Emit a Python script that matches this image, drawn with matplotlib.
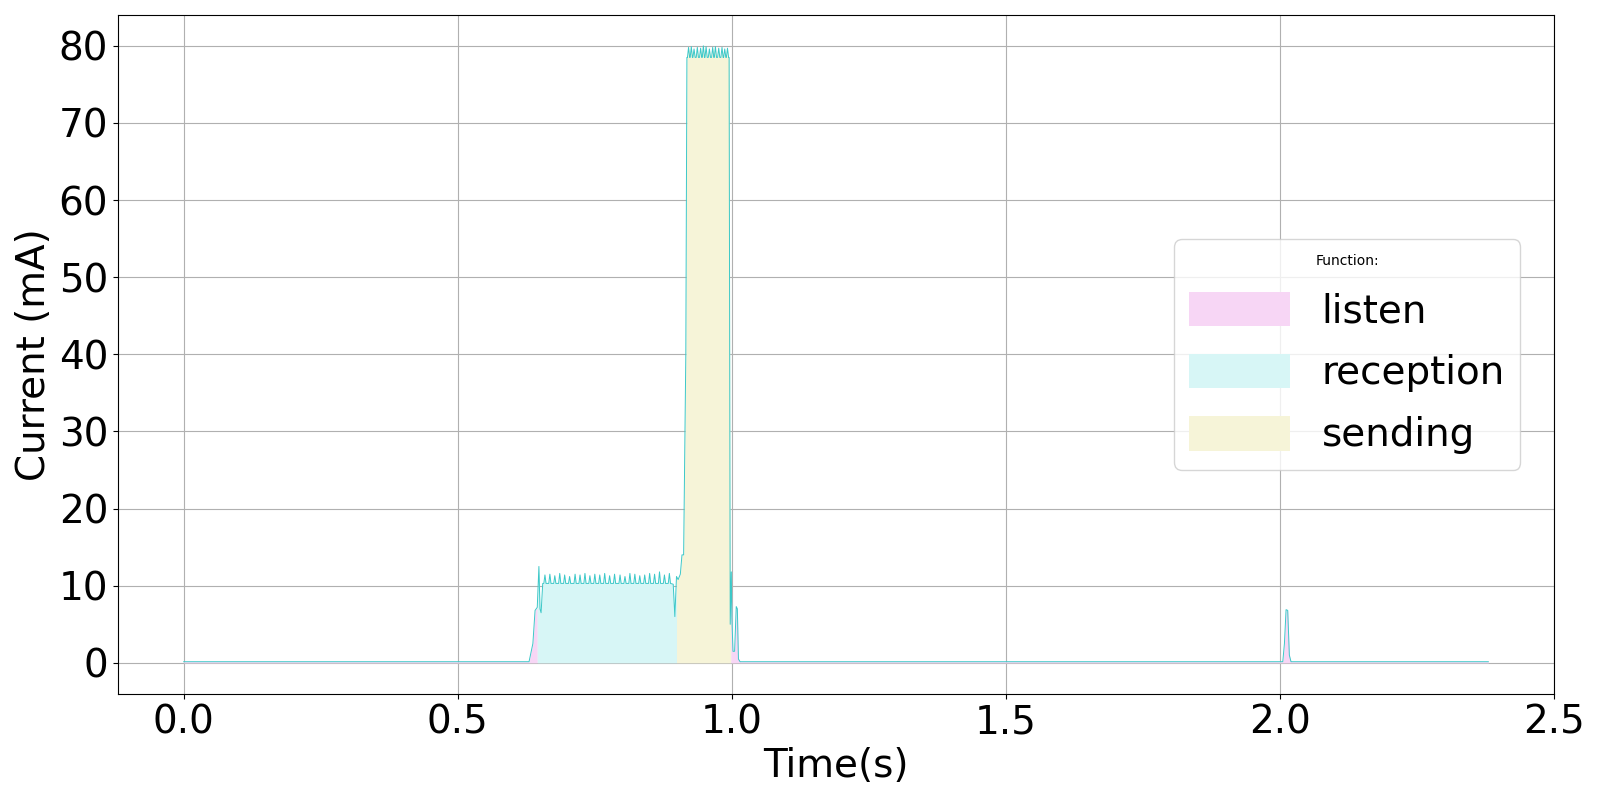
import numpy as np
import matplotlib.pyplot as plt

# trace keypoints (time s, current mA)
base_t = [0.0, 0.630, 0.637, 0.641, 0.645, 0.648, 0.650, 0.652, 0.655]
base_i = [0.15, 0.15, 2.5, 6.8, 7.2, 12.5, 7.0, 6.5, 10.3]

rx_spikes = [0.659, 0.668, 0.677, 0.686, 0.695, 0.704, 0.714, 0.723, 0.732,
             0.741, 0.750, 0.759, 0.768, 0.777, 0.786, 0.796, 0.805, 0.814,
             0.823, 0.832, 0.841, 0.850, 0.859, 0.868, 0.877, 0.886]
rx_heights = [11.4, 11.5, 11.3, 11.6, 11.4, 11.2, 11.5, 11.4, 11.6,
              11.3, 11.5, 11.4, 11.6, 11.3, 11.5, 11.4, 11.2, 11.6,
              11.5, 11.3, 11.4, 11.6, 11.5, 11.8, 11.4, 11.6]

mid_t = [0.893, 0.896, 0.899, 0.902, 0.906, 0.909, 0.912, 0.916, 0.918]
mid_i = [10.2, 6.0, 11.2, 10.8, 11.5, 14.0, 14.0, 40.0, 78.5]

tx_spikes = [0.921, 0.926, 0.931, 0.937, 0.943, 0.948, 0.953, 0.959, 0.965,
             0.970, 0.976, 0.982, 0.987, 0.992]
tx_heights = [79.8, 79.9, 79.6, 79.8, 79.7, 80.0, 79.9, 79.6, 79.8,
              79.9, 79.7, 79.8, 79.6, 79.7]

end_t = [0.995, 0.997, 0.999, 1.000, 1.002, 1.005, 1.008, 1.010, 1.012, 1.015,
         2.005, 2.008, 2.011, 2.014, 2.017, 2.020, 2.38]
end_i = [78.5, 5.0, 11.8, 6.0, 1.5, 1.5, 7.3, 7.0, 0.5, 0.15,
         0.15, 2.5, 6.9, 6.8, 1.0, 0.15, 0.15]

# function segments
states = ["listen", "reception", "sending", "listen", "listen"]
state_start = [0.0, 0.645, 0.899, 0.998, 1.9]
state_end = [0.645, 0.899, 0.998, 1.9, 2.38]
colors = {"listen": "#f7d6f5", "reception": "#d7f6f6", "sending": "#f6f4d8"}

# assemble trace
t, y = list(base_t), list(base_i)
for s, h in zip(rx_spikes, rx_heights):
    t += [s - 0.002, s, s + 0.002]
    y += [10.3, h, 10.3]
t += mid_t
y += mid_i
for s, h in zip(tx_spikes, tx_heights):
    t += [s - 0.002, s, s + 0.002]
    y += [78.5, h, 78.5]
t += end_t
y += end_i
t = np.array(t)
y = np.array(y)

fig, ax = plt.subplots(figsize=(16, 8), dpi=100)
seen = set()
for name, a, b in zip(states, state_start, state_end):
    tt = np.linspace(a, b, 2000)
    yy = np.interp(tt, t, y)
    lbl = name if name not in seen else None
    seen.add(name)
    ax.fill_between(tt, 0, yy, color=colors[name], label=lbl, lw=0)
ax.plot(t, y, color="#3cc8c8", lw=0.7)

ax.set_xlim(-0.12, 2.5)
ax.set_ylim(-4, 84)
ax.set_yticks(range(0, 81, 10))
ax.set_xlabel("Time(s)", fontsize=28)
ax.set_ylabel("Current (mA)", fontsize=28)
ax.tick_params(labelsize=28)
ax.grid(True)
ax.set_axisbelow(True)
leg = ax.legend(title="Function:", fontsize=28, title_fontsize=10,
                loc="center right", bbox_to_anchor=(0.99, 0.50),
                labelspacing=0.6, handlelength=2.6, handleheight=1.0)
plt.tight_layout()
plt.savefig("out.png")
